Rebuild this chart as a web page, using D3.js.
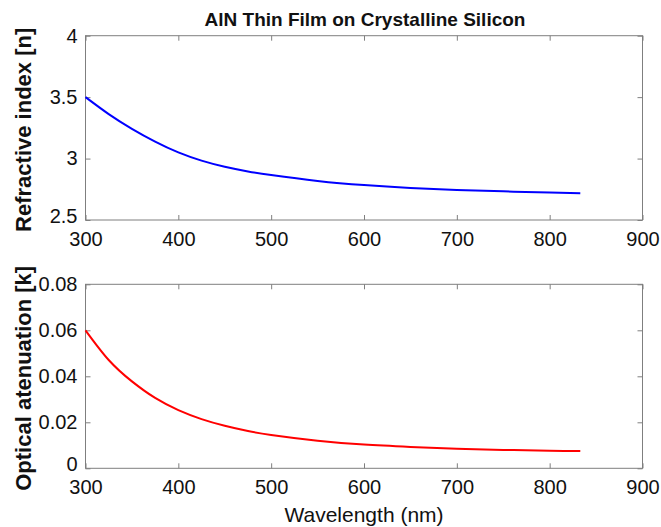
<!DOCTYPE html>
<html>
<head>
<meta charset="utf-8">
<script src="https://cdn.jsdelivr.net/npm/d3@7"></script>
<style>
  body { margin: 0; background: #fff; }
  svg { display: block; }
</style>
</head>
<body>
<svg id="chart" width="661" height="527"></svg>
<script>
// wavelength samples (nm)
const wavelength = [300, 325, 350, 375, 400, 425, 450, 475, 500, 550, 600, 650, 700, 750, 800, 833];
// refractive index n
const nValues = [3.500, 3.362, 3.242, 3.138, 3.050, 2.983, 2.933, 2.895, 2.866, 2.818, 2.784, 2.761, 2.745, 2.733, 2.723, 2.717];
// optical attenuation k
const kValues = [0.0600, 0.0471, 0.0378, 0.0306, 0.0253, 0.0214, 0.0185, 0.0162, 0.0145, 0.0120, 0.0103, 0.0093, 0.0085, 0.0080, 0.0076, 0.0075];

const xTicks = [300, 400, 500, 600, 700, 800, 900];
const nTicks = [2.5, 3, 3.5, 4];
const kTicks = [0, 0.02, 0.04, 0.06, 0.08];

const svg = d3.select("#chart");
const left = 85.5, right = 642.5;
const font = "Liberation Sans, Arial, Helvetica, sans-serif";

const x = d3.scaleLinear().domain([300, 900]).range([left, right]);

// draws one subplot with a box and inward ticks on all sides
const drawPanel = (top, bottom, yDomain, yTicks, values, color, yLabel) => {
  const y = d3.scaleLinear().domain(yDomain).range([bottom, top]);
  const g = svg.append("g");

  g.append("rect")
    .attr("x", left).attr("y", top)
    .attr("width", right - left).attr("height", bottom - top)
    .attr("fill", "#fff").attr("stroke", "#7f7f7f").attr("stroke-width", 1);

  const styleAxis = sel => {
    sel.select(".domain").remove();
    sel.selectAll(".tick line").attr("stroke", "#7f7f7f");
    sel.selectAll(".tick text").attr("fill", "#111").attr("font-family", font).attr("font-size", "20px");
  };

  g.append("g").attr("transform", `translate(0,${bottom})`)
    .call(d3.axisBottom(x).tickValues(xTicks).tickSize(-5).tickPadding(12).tickFormat(d3.format("d")))
    .call(styleAxis);
  g.append("g").attr("transform", `translate(0,${top})`)
    .call(d3.axisTop(x).tickValues(xTicks).tickSize(-5).tickFormat(""))
    .call(styleAxis);
  const yAxis = g.append("g").attr("transform", `translate(${left},0)`)
    .call(d3.axisLeft(y).tickValues(yTicks).tickSize(-5).tickPadding(8).tickFormat(d => String(d)))
    .call(styleAxis);
  // lift the lowest y label a little so it clears the x label below it
  yAxis.selectAll(".tick text").filter(d => d === yDomain[0]).attr("dy", "0.1em");
  g.append("g").attr("transform", `translate(${right},0)`)
    .call(d3.axisRight(y).tickValues(yTicks).tickSize(-5).tickFormat(""))
    .call(styleAxis);

  const line = d3.line()
    .x((d, i) => x(wavelength[i]))
    .y(d => y(d))
    .curve(d3.curveNatural);

  g.append("path")
    .datum(values)
    .attr("d", line)
    .attr("fill", "none")
    .attr("stroke", color)
    .attr("stroke-width", 2);

  g.append("text")
    .attr("transform", `translate(31,${(top + bottom) / 2 + 2}) rotate(-90)`)
    .attr("text-anchor", "middle")
    .attr("font-family", font)
    .attr("font-weight", "bold")
    .attr("font-size", "22px")
    .attr("fill", "#111")
    .text(yLabel);
};

drawPanel(35.7, 220, [2.5, 4], nTicks, nValues, "#0000ff", "Refractive index [n]");
drawPanel(284.3, 468.3, [0, 0.08], kTicks, kValues, "#ff0000", "Optical atenuation [k]");

// title
svg.append("text")
  .attr("x", 365).attr("y", 26)
  .attr("text-anchor", "middle")
  .attr("font-family", font)
  .attr("font-weight", "bold")
  .attr("font-size", "19px")
  .attr("fill", "#111")
  .text("AlN Thin Film on Crystalline Silicon");

// x label
svg.append("text")
  .attr("x", 364).attr("y", 522)
  .attr("text-anchor", "middle")
  .attr("font-family", font)
  .attr("font-size", "21px")
  .attr("fill", "#111")
  .text("Wavelength (nm)");
</script>
</body>
</html>
